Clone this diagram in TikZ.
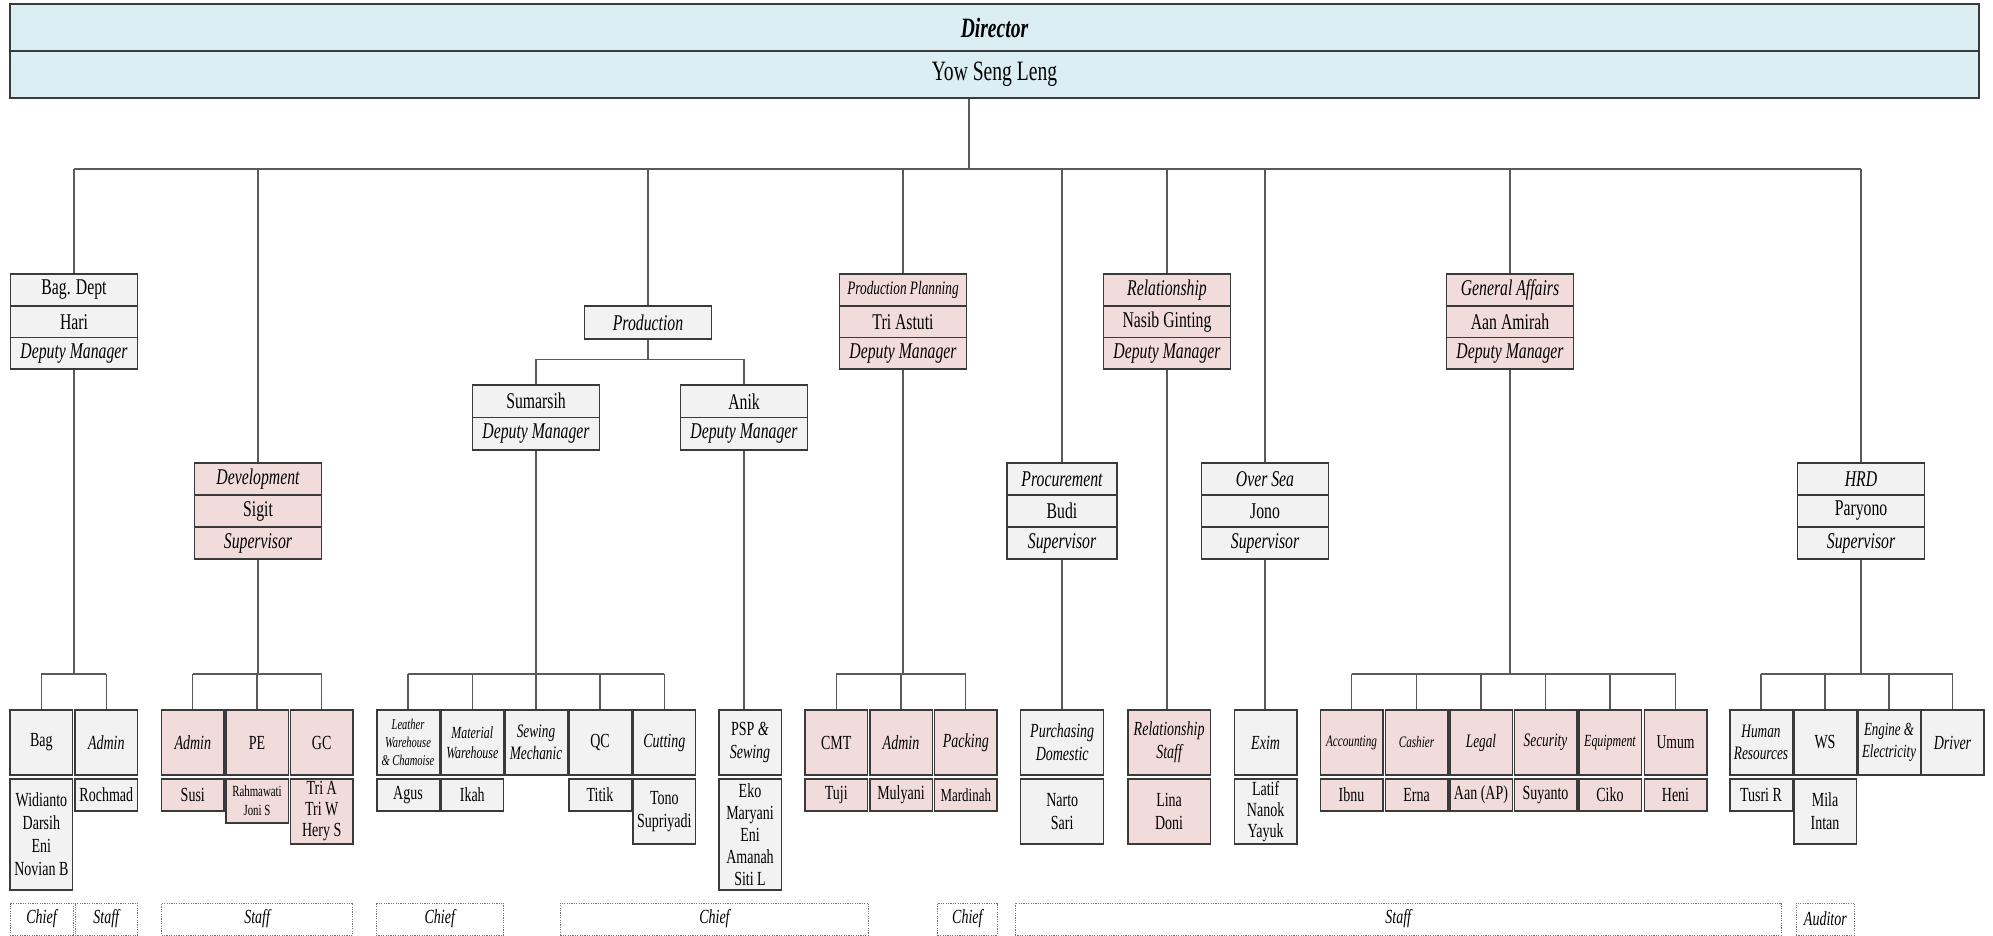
\documentclass[tikz,border=0pt]{standalone}
\usepackage{fontspec}
\setmainfont{Liberation Serif}[FakeStretch=0.7]

\definecolor{hdrblue}{HTML}{DAEEF3}
\definecolor{rosefill}{HTML}{F2DCDB}
\definecolor{palefill}{HTML}{F2F2F2}
\definecolor{edgecol}{HTML}{3A3A3A}
\definecolor{wirecol}{HTML}{5A5A5A}

\newcommand\szHead{\fontsize{28}{32}\selectfont}
\newcommand\szMid{\fontsize{22.5}{26}\selectfont}
\newcommand\szLow{\fontsize{20}{23}\selectfont}

\tikzset{
  unitbox/.style={draw=edgecol, line width=1.5pt, inner sep=0pt, align=center, fill=palefill},
  pinkfill/.style={fill=rosefill},
  hdr/.style={draw=edgecol, line width=1.6pt, fill=hdrblue, inner sep=0pt,
               minimum width=1969pt, minimum height=47pt},
  mid/.style={unitbox, minimum width=127pt, minimum height=31.7pt, font=\szMid},
  midit/.style={mid, font=\szMid\itshape},
  cell/.style={unitbox, minimum width=62.5pt, minimum height=65pt, font=\szLow},
  cellit/.style={cell, font=\szLow\itshape},
  who/.style={unitbox, minimum width=62.5pt, minimum height=32pt, font=\szLow},
  tag/.style={draw=black!55, dash pattern=on 1.2pt off 1.2pt, line width=0.8pt,
              minimum height=32pt, inner sep=0pt, font=\szLow\itshape},
  wire/.style={draw=wirecol, line width=1.3pt},
}

\begin{document}
\begin{tikzpicture}[x=1pt, y=-1pt]
\useasboundingbox (0,0) rectangle (1993,936);

% ---------- director ----------
\node[hdr, font=\szHead\bfseries\itshape] (dir) at (994.5,27.5) {Director};
\node[hdr, font=\szHead] (yow) at (994.5,74.5) {Yow Seng Leng};

% ---------- department heads ----------
% Bag. Dept
\node[mid] (bgA) at (74,290) {Bag. Dept};
\node[mid] (bgB) at (74,321.7) {Hari};
\node[midit] (bgC) at (74,353.3) {Deputy Manager};
% Production Planning
\node[mid, pinkfill, font=\fontsize{19}{22}\selectfont\itshape] (plA) at (903,290) {Production Planning};
\node[mid, pinkfill] (plB) at (903,321.7) {Tri Astuti};
\node[midit, pinkfill] (plC) at (903,353.3) {Deputy Manager};
% Relationship
\node[midit, pinkfill] (rlA) at (1167,290) {Relationship};
\node[mid, pinkfill] (rlB) at (1167,321.7) {Nasib Ginting};
\node[midit, pinkfill] (rlC) at (1167,353.3) {Deputy Manager};
% General Affairs
\node[midit, pinkfill] (gaA) at (1510,290) {General Affairs};
\node[mid, pinkfill] (gaB) at (1510,321.7) {Aan Amirah};
\node[midit, pinkfill] (gaC) at (1510,353.3) {Deputy Manager};
% Development
\node[midit, pinkfill] (dvA) at (258,479) {Development};
\node[mid, pinkfill] (dvB) at (258,511) {Sigit};
\node[midit, pinkfill] (dvC) at (258,543) {Supervisor};
% Procurement
\node[midit, minimum width=110pt] (pcA) at (1062,479) {Procurement};
\node[mid, minimum width=110pt] (pcB) at (1062,511) {Budi};
\node[midit, minimum width=110pt] (pcC) at (1062,543) {Supervisor};
% Over Sea
\node[midit] (osA) at (1265,479) {Over Sea};
\node[mid] (osB) at (1265,511) {Jono};
\node[midit] (osC) at (1265,543) {Supervisor};
% HRD
\node[midit] (hrA) at (1861,479) {HRD};
\node[mid] (hrB) at (1861,511) {Paryono};
\node[midit] (hrC) at (1861,543) {Supervisor};
% Production and its two managers
\node[midit, minimum height=33pt] (prod) at (648,322.5) {Production};
\node[mid, minimum height=32.5pt] (smA) at (536,401.25) {Sumarsih};
\node[midit, minimum height=32.5pt] (smB) at (536,433.75) {Deputy Manager};
\node[mid, minimum height=32.5pt] (anA) at (744,401.25) {Anik};
\node[midit, minimum height=32.5pt] (anB) at (744,433.75) {Deputy Manager};

% ---------- sections and staff ----------
% Bag. Dept
\node[cell] (bag) at (41.4,742.5) {Bag};
\node[cellit] (adm1) at (106.3,742.5) {Admin};
\node[who, minimum height=111pt] (bagN) at (41.4,834.5) {Widianto\\Darsih\\Eni\\Novian B};
\node[who] (adm1N) at (106.3,795) {Rochmad};
% Development
\node[cellit, pinkfill] (adm2) at (192.8,742.5) {Admin};
\node[cell, pinkfill] (pe) at (257,742.5) {PE};
\node[cell, pinkfill] (gc) at (321.7,742.5) {GC};
\node[who, pinkfill] (adm2N) at (192.8,795) {Susi};
\node[who, pinkfill, minimum height=44pt, font=\fontsize{15.5}{19}\selectfont] (peN) at (257,801) {Rahmawati\\Joni S};
\node[who, pinkfill, minimum height=65pt, font=\fontsize{20}{21}\selectfont] (gcN) at (321.7,811.5) {Tri A\\Tri W\\Hery S};
% Sumarsih
\node[cell, font=\fontsize{15}{18}\selectfont\itshape] (lw) at (408,742.5) {Leather\\Warehouse\\\& Chamoise};
\node[cell, font=\fontsize{17}{20}\selectfont\itshape] (mw) at (472.3,742.5) {Material\\Warehouse};
\node[cell, font=\fontsize{19}{22}\selectfont\itshape] (sm) at (536,742.5) {Sewing\\Mechanic};
\node[cell] (qc) at (600,742.5) {QC};
\node[cellit] (cut) at (664.3,742.5) {Cutting};
\node[who] (lwN) at (408,795) {Agus};
\node[who] (mwN) at (472.3,795) {Ikah};
\node[who] (qcN) at (600,795) {Titik};
\node[who, minimum height=65pt] (cutN) at (664.3,811.5) {Tono\\Supriyadi};
% Anik
\node[cell] (psp) at (750,742.5) {PSP \textit{\&}\\\textit{Sewing}};
\node[who, minimum height=111pt, font=\fontsize{20}{22}\selectfont] (pspN) at (750,834.5) {Eko\\Maryani\\Eni\\Amanah\\Siti L};
% Production Planning
\node[cell, pinkfill] (cmt) at (836.3,742.5) {CMT};
\node[cellit, pinkfill] (adm3) at (901,742.5) {Admin};
\node[cellit, pinkfill] (pack) at (965.8,742.5) {Packing};
\node[who, pinkfill] (cmtN) at (836.3,795) {Tuji};
\node[who, pinkfill] (adm3N) at (901,795) {Mulyani};
\node[who, pinkfill, font=\fontsize{18.5}{22}\selectfont] (packN) at (965.8,795) {Mardinah};
% Procurement
\node[cellit, minimum width=83pt] (pd) at (1062.2,742.5) {Purchasing\\Domestic};
\node[who, minimum width=83pt, minimum height=65pt] (pdN) at (1062.2,811.5) {Narto\\Sari};
% Relationship
\node[cellit, pinkfill, minimum width=82.6pt] (rs) at (1169.1,742.5) {Relationship\\Staff};
\node[who, pinkfill, minimum width=82.6pt, minimum height=65pt] (rsN) at (1169.1,811.5) {Lina\\Doni};
% Over Sea
\node[cellit] (ex) at (1265.6,742.5) {Exim};
\node[who, minimum height=65pt, font=\fontsize{20}{21}\selectfont] (exN) at (1265.6,811.5) {Latif\\Nanok\\Yayuk};
% General Affairs
\node[cell, pinkfill, font=\fontsize{16}{19}\selectfont\itshape] (acc) at (1351.5,742.5) {Accounting};
\node[cell, pinkfill, font=\fontsize{16}{19}\selectfont\itshape] (csh) at (1416.5,742.5) {Cashier};
\node[cell, pinkfill, font=\fontsize{19}{22}\selectfont\itshape] (lgl) at (1481,742.5) {Legal};
\node[cell, pinkfill, font=\fontsize{19}{22}\selectfont\itshape] (sec) at (1545.5,742.5) {Security};
\node[cell, pinkfill, font=\fontsize{17}{20}\selectfont\itshape] (eqp) at (1610,742.5) {Equipment};
\node[cell, pinkfill, font=\fontsize{19.5}{22}\selectfont] (umm) at (1675.5,742.5) {Umum};
\node[who, pinkfill] (accN) at (1351.5,795) {Ibnu};
\node[who, pinkfill] (cshN) at (1416.5,795) {Erna};
\node[who, pinkfill] (lglN) at (1481,795) {Aan (AP)};
\node[who, pinkfill] (secN) at (1545.5,795) {Suyanto};
\node[who, pinkfill] (eqpN) at (1610,795) {Ciko};
\node[who, pinkfill] (ummN) at (1675.5,795) {Heni};
% HRD
\node[cell, font=\fontsize{19}{22}\selectfont\itshape] (hres) at (1761,742.5) {Human\\Resources};
\node[cell] (ws) at (1825,742.5) {WS};
\node[cell, font=\fontsize{18.5}{22}\selectfont\itshape] (eng) at (1889,742.5) {Engine \&\\Electricity};
\node[cellit] (drv) at (1952.5,742.5) {Driver};
\node[who] (hresN) at (1761,795) {Tusri R};
\node[who, minimum height=65pt] (wsN) at (1825,811.5) {Mila\\Intan};

% ---------- grade labels ----------
\node[tag, minimum width=63pt] (t1) at (41.5,919) {Chief};
\node[tag, minimum width=62.5pt] (t2) at (106.25,919) {Staff};
\node[tag, minimum width=191.1pt] (t3) at (257.15,919) {Staff};
\node[tag, minimum width=127.6pt] (t4) at (439.8,919) {Chief};
\node[tag, minimum width=308.1pt] (t5) at (714.45,919) {Chief};
\node[tag, minimum width=59.3pt] (t6) at (967.35,919) {Chief};
\node[tag, minimum width=766.4pt] (t7) at (1398.2,919) {Staff};
\node[tag, minimum width=58.7pt] (t8) at (1825.35,919) {Auditor};

% ---------- connectors ----------
\coordinate (hub) at (969,169);
\draw[wire] (hub |- yow.south) -- (hub);
\draw[wire] (hub -| bgA.north) -- (hub -| hrA.north);
\foreach \n in {bgA, dvA, prod, plA, pcA, rlA, osA, gaA, hrA}
  \draw[wire] (hub -| \n.north) -- (\n.north);

\coordinate (pbus) at (0,359.3);
\draw[wire] (prod.south) -- (prod.south |- pbus);
\draw[wire] (smA.north |- pbus) -- (anA.north |- pbus);
\foreach \n in {smA, anA}
  \draw[wire] (\n.north |- pbus) -- (\n.north);

\coordinate (lowbus) at (0,674);
% parent bottom -> bus, bus across first..last child, bus -> each child
\foreach \p/\first/\last/\kids in {
    bgC/bag/adm1/{bag,adm1},
    dvC/adm2/gc/{adm2,pe,gc},
    smB/lw/cut/{lw,mw,sm,qc,cut},
    plC/cmt/pack/{cmt,adm3,pack},
    gaC/acc/umm/{acc,csh,lgl,sec,eqp,umm},
    hrC/hres/drv/{hres,ws,eng,drv}} {
  \draw[wire] (\p.south) -- (\p.south |- lowbus);
  \draw[wire] (\first.north |- lowbus) -- (\last.north |- lowbus);
  \foreach \k in \kids
    \draw[wire] (\k.north |- lowbus) -- (\k.north);
}
% single-section branches
\draw[wire] (anB.south) -- (anB.south |- psp.north);
\draw[wire] (pcC.south) -- (pcC.south |- pd.north);
\draw[wire] (rlC.south) -- (rlC.south |- rs.north);
\draw[wire] (osC.south) -- (osC.south |- ex.north);
\end{tikzpicture}
\end{document}
